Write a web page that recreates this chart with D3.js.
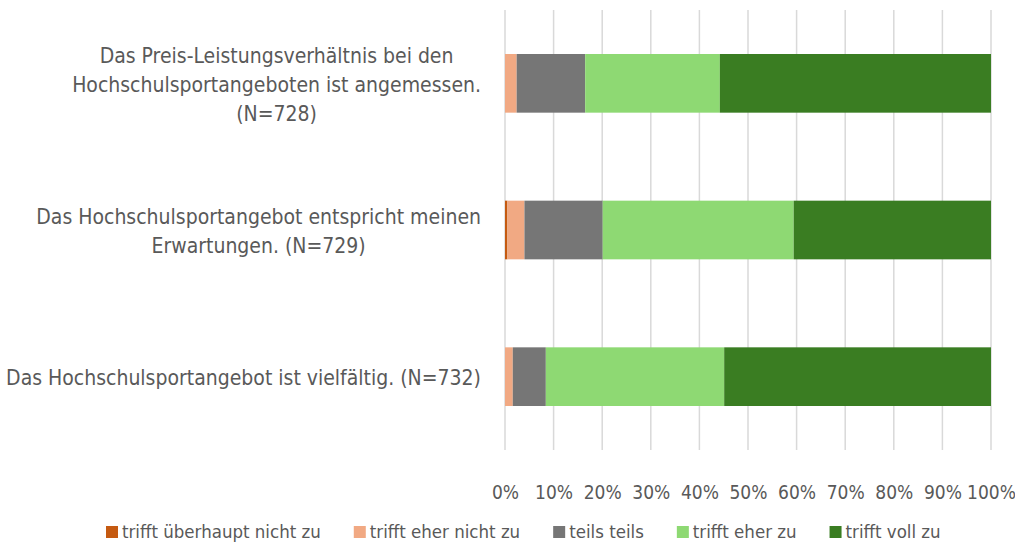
<!DOCTYPE html>
<html>
<head>
<meta charset="utf-8">
<script src="https://cdn.jsdelivr.net/npm/d3@7"></script>
<style>
  body { margin: 0; background: #fff; }
  text { font-family: "Liberation Sans Narrow", "DejaVu Sans Condensed", "Roboto", sans-serif; fill: #595959; }
</style>
</head>
<body>
<div id="chart"></div>
<script>
// categories (top to bottom), each label split into its lines
var categories = [
  ["Das Preis-Leistungsverhältnis bei den", "Hochschulsportangeboten ist angemessen.", "(N=728)"],
  ["Das Hochschulsportangebot entspricht meinen", "Erwartungen. (N=729)"],
  ["Das Hochschulsportangebot ist vielfältig. (N=732)"]
];
var seriesNames = ["trifft überhaupt nicht zu", "trifft eher nicht zu", "teils teils", "trifft eher zu", "trifft voll zu"];
var colors = ["#c55a11", "#f1a983", "#767676", "#8ed973", "#3a7d22"];

// percent shares per category, in the order of seriesNames
var ueberhauptNicht = [0.0, 0.5, 0.0];
var eherNicht = [2.4, 3.5, 1.6];
var teilsTeils = [14.1, 16.1, 6.8];
var eherZu = [27.7, 39.3, 36.7];
var vollZu = [55.8, 40.6, 54.9];
var ticks = [0, 10, 20, 30, 40, 50, 60, 70, 80, 90, 100];

var W = 1015, H = 545;
var margin = {top: 10, right: 24, bottom: 95, left: 505};
var width = W - margin.left - margin.right,
    height = H - margin.top - margin.bottom;

var svg = d3.select("#chart").append("svg")
  .attr("width", W).attr("height", H);
var g = svg.append("g")
  .attr("transform", "translate(" + margin.left + "," + margin.top + ")");

var keys = d3.range(categories.length);
var rows = keys.map(function(i) {
  return {i: i, values: [ueberhauptNicht[i], eherNicht[i], teilsTeils[i], eherZu[i], vollZu[i]]};
});

var x = d3.scaleLinear().domain([0, 100]).range([0, width]);
var y = d3.scaleBand().domain(keys).range([0, height]).paddingInner(0.6).paddingOuter(0.3);

// gridlines
g.selectAll(".grid").data(ticks).enter().append("line")
  .attr("x1", function(d) { return x(d); })
  .attr("x2", function(d) { return x(d); })
  .attr("y1", 0).attr("y2", height)
  .attr("stroke", "#d9d9d9").attr("stroke-width", 1.5);

// x axis
var xAxis = g.append("g")
  .attr("transform", "translate(0," + height + ")")
  .call(d3.axisBottom(x).tickValues(ticks).tickSize(0).tickPadding(36).tickFormat(function(d) { return d + "%"; }));
xAxis.select(".domain").remove();
xAxis.selectAll("text").style("font-size", "19px").attr("fill", "#595959");

// stacked bars
var stack = d3.stack().keys(d3.range(seriesNames.length)).value(function(d, k) { return d.values[k]; });
var layers = stack(rows);

g.selectAll(".layer").data(layers).enter().append("g")
  .attr("fill", function(d) { return colors[d.key]; })
  .selectAll("rect").data(function(d) { return d; }).enter().append("rect")
  .attr("x", function(d) { return x(d[0]); })
  .attr("width", function(d) { return x(d[1]) - x(d[0]); })
  .attr("y", function(d) { return y(d.data.i); })
  .attr("height", y.bandwidth());

// category labels: block centred, widest line ends at right edge
var labelRight = 481, lineH = 29;
categories.forEach(function(lines, i) {
  var t = svg.append("text")
    .attr("text-anchor", "middle")
    .style("font-size", "21px");
  var cy = margin.top + y(i) + y.bandwidth() / 2;
  var y0 = cy - (lines.length - 1) * lineH / 2 + 1;
  var spans = lines.map(function(l, j) {
    return t.append("tspan").attr("y", y0 + j * lineH).attr("dy", "0.35em").text(l);
  });
  var maxW = d3.max(spans, function(s) { return s.node().getComputedTextLength(); });
  spans.forEach(function(s) { s.attr("x", labelRight - maxW / 2); });
});

// legend
var legend = svg.append("g").attr("transform", "translate(106," + 532 + ")");
var lx = 0;
seriesNames.forEach(function(name, k) {
  legend.append("rect").attr("x", lx).attr("y", -6).attr("width", 12).attr("height", 12).attr("fill", colors[k]);
  var t = legend.append("text").attr("x", lx + 16).attr("dy", "0.35em").style("font-size", "18.5px").text(name);
  lx += 16 + t.node().getComputedTextLength() + 33;
});
</script>
</body>
</html>
